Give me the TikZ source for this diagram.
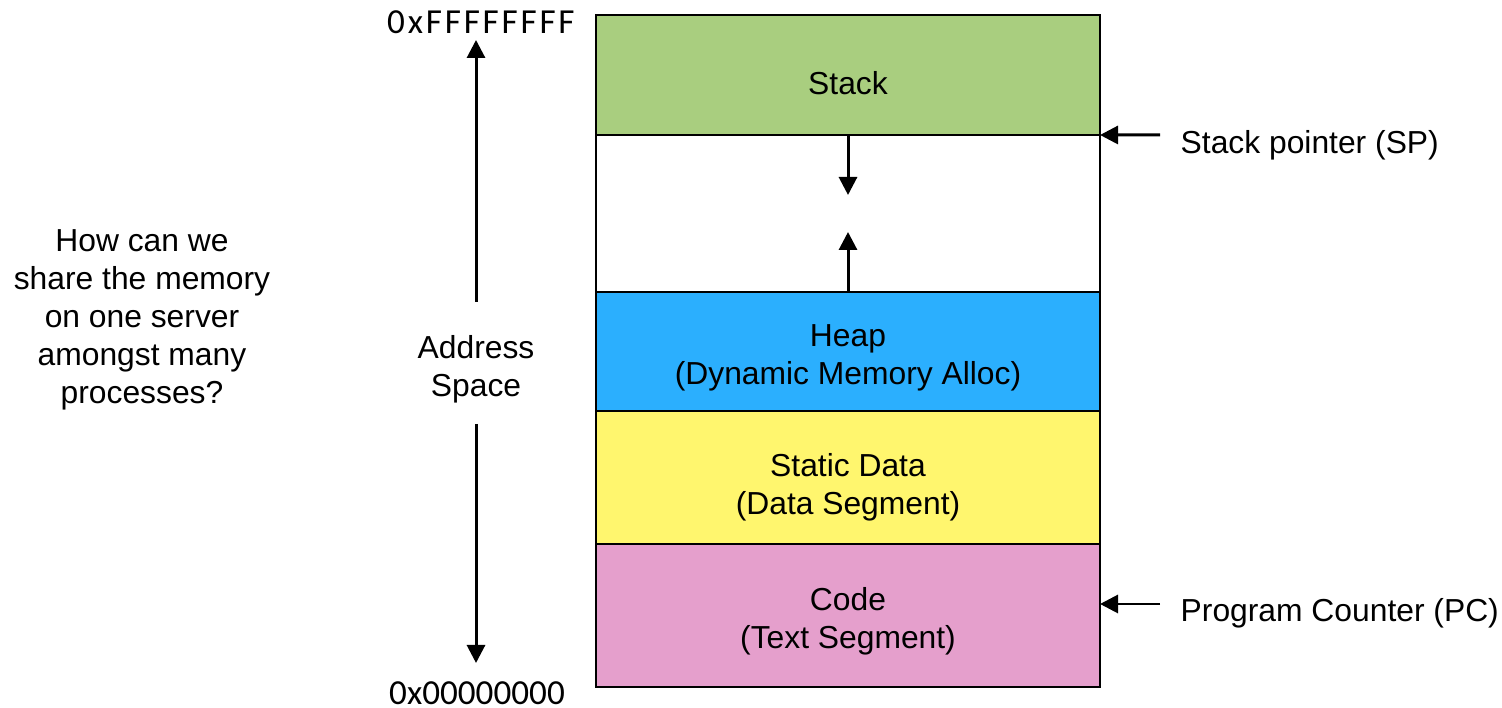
\documentclass[tikz,border=0pt]{standalone}
\usepackage{fontspec}
\setmainfont{Liberation Sans}
\newfontfamily\hexfont{Carlito}
\newfontfamily\hexwidefont{Carlito}[LetterSpace=8]
\usetikzlibrary{arrows.meta,positioning}
\definecolor{segstack}{RGB}{169,206,127}
\definecolor{segheap}{RGB}{43,175,254}
\definecolor{segdata}{RGB}{255,246,110}
\definecolor{segcode}{RGB}{229,159,204}
\newcommand{\memfont}{\fontsize{9.05}{10.8}\selectfont}
\tikzset{
  seg/.style   ={rectangle, draw=black, line width=0.8pt, minimum width=5.04cm,
                 inner sep=0pt, outer sep=0pt},
  ptr/.style   ={-{Triangle[length=1.8mm, width=1.8mm]}, line width=0.85pt},
  lbl/.style   ={font=\memfont, align=center, inner sep=0pt},
  hexlbl/.style={font=\hexfont\fontsize{10}{12}\selectfont, inner sep=0pt},
}

\begin{document}
\begin{tikzpicture}
  \useasboundingbox (0,0) rectangle (15.02,7.08);

  % ---- the address space, top to bottom ------------------------------------
  \node[seg, fill=segstack, minimum height=1.20cm, anchor=north] (stack) at (8.48,6.93) {};
  \node[seg, minimum height=1.57cm, below=0pt of stack] (gap) {};
  \node[seg, fill=segheap, minimum height=1.19cm, below=0pt of gap]  (heap) {};
  \node[seg, fill=segdata, minimum height=1.33cm, below=0pt of heap] (data) {};
  \node[seg, fill=segcode, minimum height=1.43cm, below=0pt of data] (code) {};

  \node[lbl, yshift=-0.08cm] (stacktxt) at (stack) {Stack};
  \node[lbl, yshift=-0.06cm] (heaptxt)  at (heap)  {Heap\\(Dynamic Memory Alloc)};
  \node[lbl, yshift=-0.10cm] (datatxt)  at (data)  {Static Data\\(Data Segment)};
  \node[lbl, yshift=-0.06cm] (codetxt)  at (code)  {Code\\(Text Segment)};

  % growth of stack and heap into the gap
  \coordinate[below=0.6cm of stack.south] (stackgrow);
  \coordinate[above=0.6cm of heap.north]  (heapgrow);
  \draw[ptr] (stack.south) -- (stackgrow);
  \draw[ptr] (heap.north)  -- (heapgrow);

  % ---- registers on the right ----------------------------------------------
  \coordinate (sptail) at (11.60,5.73);
  \coordinate (pctail) at (11.60,1.04);
  \coordinate (pcpin)  at (11.00,1.04);
  \node[lbl, anchor=west] (sp) at (11.80,5.63) {Stack pointer (SP)};
  \node[lbl, anchor=west] (pc) at (11.80,0.95) {Program Counter (PC)};
  \draw[ptr] (sptail) -- (stack.south east);
  \draw[ptr] (pctail) -- (pcpin);

  % ---- address range on the left -------------------------------------------
  \node[hexlbl, font=\hexwidefont\fontsize{10}{12}\selectfont] (hexhi) at (4.81,6.86) {0xFFFFFFFF};
  \node[hexlbl] (hexlo) at (4.77,0.15) {0x00000000};
  \node[lbl] (addr) at (4.76,3.39) {Address\\Space};
  \coordinate (addrhi)  at (4.76,4.06);
  \coordinate (addrlo)  at (4.76,2.84);
  \coordinate (addrtop) at (4.76,6.68);
  \coordinate (addrbot) at (4.76,0.45);
  \draw[ptr] (addrhi) -- (addrtop);
  \draw[ptr] (addrlo) -- (addrbot);

  \node[lbl] (question) at (1.42,3.88)
    {How can we\\share the memory\\on one server\\amongst many\\processes?};
\end{tikzpicture}
\end{document}
